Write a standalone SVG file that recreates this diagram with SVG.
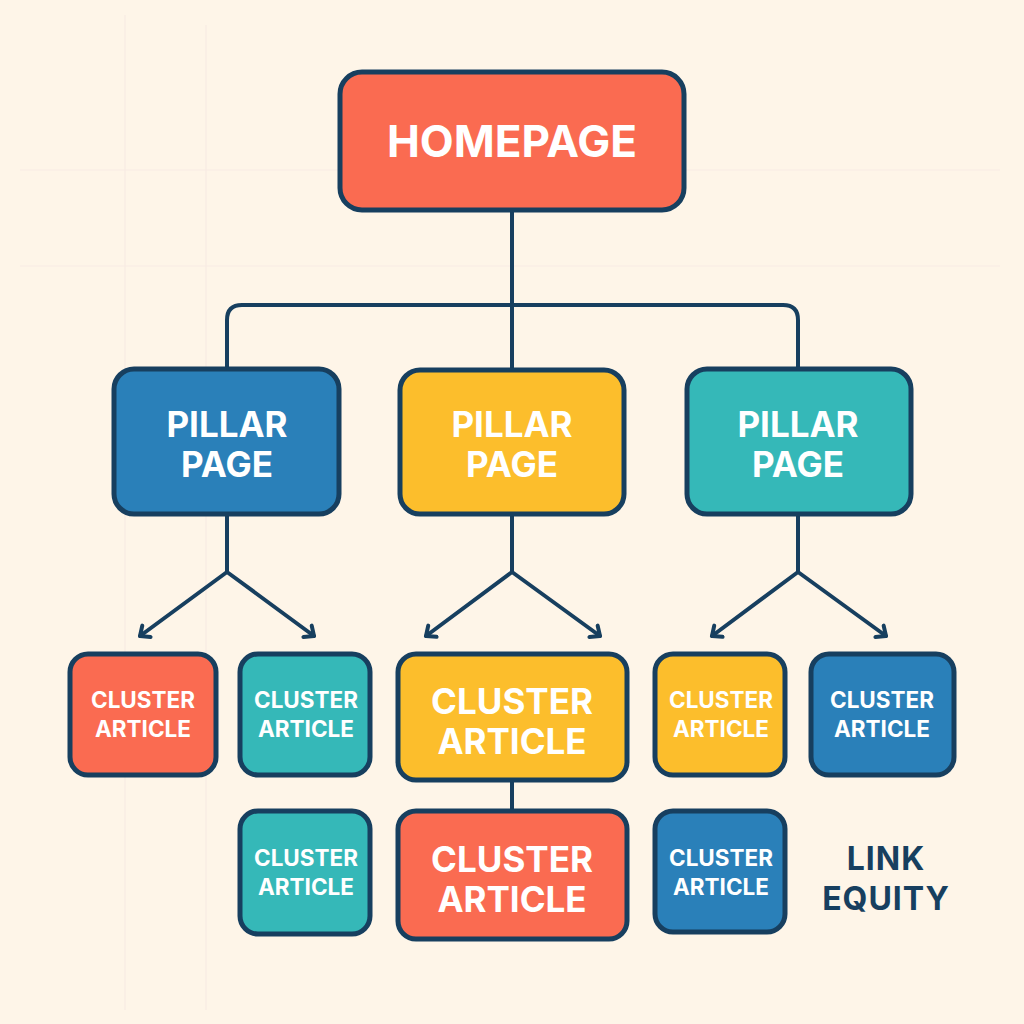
<svg xmlns="http://www.w3.org/2000/svg" width="1024" height="1024" viewBox="0 0 1024 1024">
<defs>
<style>
.node{stroke:#173F5F;stroke-width:5}
.t{font-family:Inter,"Open Sans","Liberation Sans",sans-serif;font-weight:700;fill:#fff;text-anchor:middle}
.big{font-size:44px}
.mid{font-size:35px}
.sm{font-size:22.5px}
.conn{fill:none;stroke:#173F5F;stroke-width:4;stroke-linecap:round;stroke-linejoin:round}
.grid{stroke:#F7EBE3;stroke-width:1.2}
</style>
<marker id="arr" viewBox="0 0 20 20" refX="10" refY="10" markerWidth="20" markerHeight="20" markerUnits="userSpaceOnUse" orient="auto">
<path d="M2,3 L10,10 L2,17" fill="none" stroke="#173F5F" stroke-width="4" stroke-linecap="round" stroke-linejoin="round"/>
</marker>
</defs>
<rect width="1024" height="1024" fill="#FEF5E8"/>
<g id="grid">
<line class="grid" x1="125" y1="15" x2="125" y2="1010"/>
<line class="grid" x1="206" y1="25" x2="206" y2="1010"/>
<line class="grid" x1="20" y1="170" x2="1000" y2="170"/>
<line class="grid" x1="20" y1="266" x2="1000" y2="266"/>
</g>
<g id="connectors">
<path class="conn" d="M512,210 V305"/>
<path class="conn" d="M227,370 V320 Q227,305 242,305 H783 Q798,305 798,320 V370"/>
<path class="conn" d="M512,305 V370"/>
<path class="conn" d="M227,514 V572"/>
<path class="conn" d="M227,572 L140,636" marker-end="url(#arr)"/>
<path class="conn" d="M227,572 L314,636" marker-end="url(#arr)"/>
<path class="conn" d="M512,514 V572"/>
<path class="conn" d="M512,572 L426,636" marker-end="url(#arr)"/>
<path class="conn" d="M512,572 L600,636" marker-end="url(#arr)"/>
<path class="conn" d="M798,514 V572"/>
<path class="conn" d="M798,572 L712,636" marker-end="url(#arr)"/>
<path class="conn" d="M798,572 L886,636" marker-end="url(#arr)"/>
<path class="conn" d="M512,780 V810"/>
</g>
<g id="homepage">
<rect class="node" x="340" y="72" width="344" height="138" rx="22" fill="#FA6B51"/>
<text class="t big" x="512" y="157">HOMEPAGE</text>
</g>
<g id="pillar1">
<rect class="node" x="114" y="369" width="225" height="145" rx="20" fill="#2A80B9"/>
<text class="t mid" x="227" y="437">PILLAR</text>
<text class="t mid" x="227" y="477">PAGE</text>
</g>
<g id="pillar2">
<rect class="node" x="400" y="370" width="224" height="144" rx="20" fill="#FCBE2C"/>
<text class="t mid" x="512" y="437">PILLAR</text>
<text class="t mid" x="512" y="477">PAGE</text>
</g>
<g id="pillar3">
<rect class="node" x="687" y="369" width="224" height="145" rx="20" fill="#35B8B8"/>
<text class="t mid" x="798" y="437">PILLAR</text>
<text class="t mid" x="798" y="477">PAGE</text>
</g>
<g id="cluster1">
<rect class="node" x="70" y="654" width="146" height="121" rx="18" fill="#FA6B51"/>
<text class="t sm" x="143" y="708">CLUSTER</text>
<text class="t sm" x="143" y="737">ARTICLE</text>
</g>
<g id="cluster2">
<rect class="node" x="240" y="654" width="130" height="121" rx="18" fill="#35B8B8"/>
<text class="t sm" x="306" y="708">CLUSTER</text>
<text class="t sm" x="306" y="737">ARTICLE</text>
</g>
<g id="cluster3">
<rect class="node" x="398" y="654" width="229" height="126" rx="18" fill="#FCBE2C"/>
<text class="t mid" x="512" y="714">CLUSTER</text>
<text class="t mid" x="512" y="754">ARTICLE</text>
</g>
<g id="cluster4">
<rect class="node" x="655" y="654" width="130" height="121" rx="18" fill="#FCBE2C"/>
<text class="t sm" x="721" y="708">CLUSTER</text>
<text class="t sm" x="721" y="737">ARTICLE</text>
</g>
<g id="cluster5">
<rect class="node" x="811" y="654" width="143" height="121" rx="18" fill="#2A80B9"/>
<text class="t sm" x="882" y="708">CLUSTER</text>
<text class="t sm" x="882" y="737">ARTICLE</text>
</g>
<g id="cluster6">
<rect class="node" x="240" y="811" width="130" height="123" rx="18" fill="#35B8B8"/>
<text class="t sm" x="306" y="866">CLUSTER</text>
<text class="t sm" x="306" y="895">ARTICLE</text>
</g>
<g id="cluster7">
<rect class="node" x="398" y="811" width="229" height="128" rx="18" fill="#FA6B51"/>
<text class="t mid" x="512" y="872">CLUSTER</text>
<text class="t mid" x="512" y="912">ARTICLE</text>
</g>
<g id="cluster8">
<rect class="node" x="655" y="811" width="130" height="121" rx="18" fill="#2A80B9"/>
<text class="t sm" x="721" y="866">CLUSTER</text>
<text class="t sm" x="721" y="895">ARTICLE</text>
</g>
<g id="link-equity">
<text class="t" x="886" y="870" style="font-size:32px;fill:#173F5F;letter-spacing:1px">LINK</text>
<text class="t" x="886" y="910" style="font-size:32px;fill:#173F5F;letter-spacing:1px">EQUITY</text>
</g>
</svg>
